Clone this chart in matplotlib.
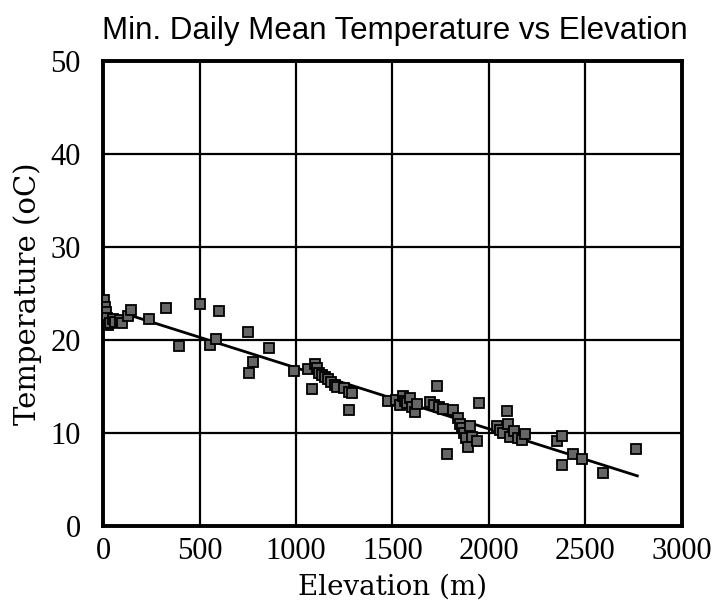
import matplotlib
matplotlib.use("Agg")
import matplotlib.pyplot as plt

# Data
elevation = [5, 10, 15, 20, 25, 35, 50, 60, 88, 100, 130, 145, 240, 325, 392,
             500, 552, 583, 603, 751, 758, 775, 861, 990, 1060, 1081, 1100,
             1110, 1120, 1135, 1150, 1165, 1180, 1200, 1213, 1250, 1273, 1290,
             1273, 1479, 1520, 1540, 1555, 1565, 1575, 1590, 1600, 1617, 1627,
             1695, 1715, 1733, 1740, 1762, 1782, 1816, 1840, 1850, 1860, 1870,
             1880, 1894, 1900, 1913, 1941, 1949, 2042, 2060, 2075, 2096, 2100,
             2110, 2130, 2150, 2170, 2190, 2352, 2378, 2381, 2438, 2481, 2594,
             2763]
temperature = [24.3, 23.6, 23.0, 22.4, 21.6, 21.8, 22.3, 21.9, 22.2, 21.8, 22.6,
               23.2, 22.3, 23.5, 19.4, 23.9, 19.5, 20.1, 23.1, 20.9, 16.5, 17.6,
               19.1, 16.7, 16.9, 14.7, 17.4, 17.0, 16.5, 16.2, 16.0, 15.8, 15.5,
               15.2, 15.0, 14.8, 14.4, 14.3, 12.5, 13.4, 13.6, 13.0, 14.0, 13.5,
               13.2, 13.8, 12.8, 12.3, 13.1, 13.3, 13.0, 15.1, 12.8, 12.6, 7.8,
               12.5, 11.6, 11.0, 10.5, 10.0, 9.5, 8.5, 10.8, 9.6, 9.2, 13.2,
               10.8, 10.3, 10.0, 12.4, 11.0, 9.6, 10.2, 9.5, 9.3, 9.9, 9.1, 9.7,
               6.6, 7.8, 7.2, 5.7, 8.3]
fit_x = [150, 2770]
fit_y = [22.6, 5.4]
x_ticks = [0, 500, 1000, 1500, 2000, 2500, 3000]
y_ticks = [0, 10, 20, 30, 40, 50]

fig = plt.figure(figsize=(7.16, 6.11), dpi=100)
ax = fig.add_axes([0.144, 0.139, 0.808, 0.761])

ax.plot(fit_x, fit_y, color="black", lw=2.0, zorder=3)
ax.plot(elevation, temperature, ls="none", marker="s", ms=7.5,
        mfc="#666666", mec="black", mew=1.3, zorder=4)

ax.set_xlim(0, 3000)
ax.set_ylim(0, 50)
ax.set_xticks(x_ticks)
ax.set_yticks(y_ticks)
ax.grid(True, color="black", lw=1.6)
ax.set_axisbelow(True)
for s in ax.spines.values():
    s.set_linewidth(2.8)
ax.tick_params(length=0, labelsize=22)
ax.tick_params(axis="y", pad=16)
ax.tick_params(axis="x", pad=8)
for lab in ax.get_xticklabels() + ax.get_yticklabels():
    lab.set_family("Liberation Serif")

ax.set_xlabel("Elevation (m)", family="DejaVu Serif", fontsize=20, labelpad=5)
ax.set_ylabel("Temperature (oC)", family="DejaVu Serif", fontsize=21, labelpad=6)
fig.text(0.552, 0.950, "Min. Daily Mean Temperature vs Elevation",
         family="Liberation Sans", fontsize=22.5, ha="center", va="center")

fig.savefig("out.png", dpi=100, facecolor="white")
